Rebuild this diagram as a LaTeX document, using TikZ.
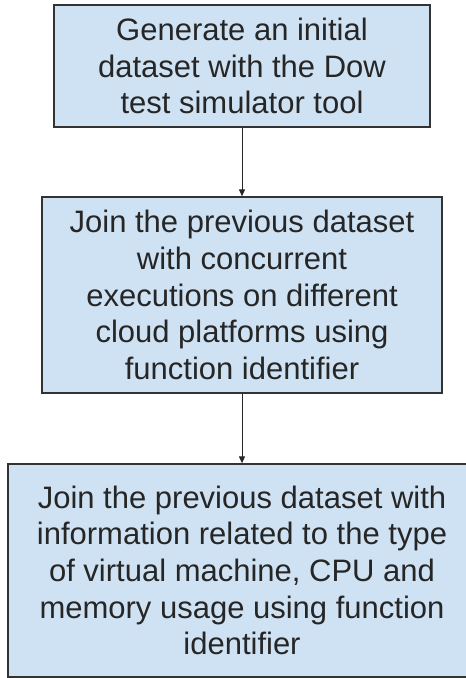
\documentclass[tikz,border=0pt]{standalone}
\usepackage{fontspec}
\setmainfont{Liberation Sans}
\usetikzlibrary{arrows.meta}
\definecolor{boxfill}{HTML}{CFE2F3}
\definecolor{boxline}{HTML}{333333}
\tikzset{
  stepbox/.style={draw=boxline, line width=1.3pt, fill=boxfill, rectangle,
    align=center, inner sep=0pt, font=\fontsize{31}{36.7}\selectfont, text=black!85},
  flowarrow/.style={draw=black!85, line width=1pt, -{Triangle[width=6pt,length=7pt]}}
}
\begin{document}
\begin{tikzpicture}[x=1pt,y=-1pt]
\useasboundingbox (0,0) rectangle (466,678);
\clip (0,0) rectangle (466,678);
\node[stepbox, minimum width=376pt, minimum height=122pt] (s1) at (242,66)
  {Generate an initial\\dataset with the Dow\\test simulator tool};
\node[stepbox, minimum width=400pt, minimum height=196pt] (s2) at (242,295)
  {Join the previous dataset\\with concurrent\\executions on different\\cloud platforms using\\function identifier};
\node[stepbox, minimum width=468pt, minimum height=213pt] (s3) at (242,570.5)
  {Join the previous dataset with\\information related to the type\\of virtual machine, CPU and\\memory usage using function\\identifier};
\draw[flowarrow] (s1.south) -- (s2.north);
\draw[flowarrow] (s2.south) -- (s3.north);
\end{tikzpicture}
\end{document}
